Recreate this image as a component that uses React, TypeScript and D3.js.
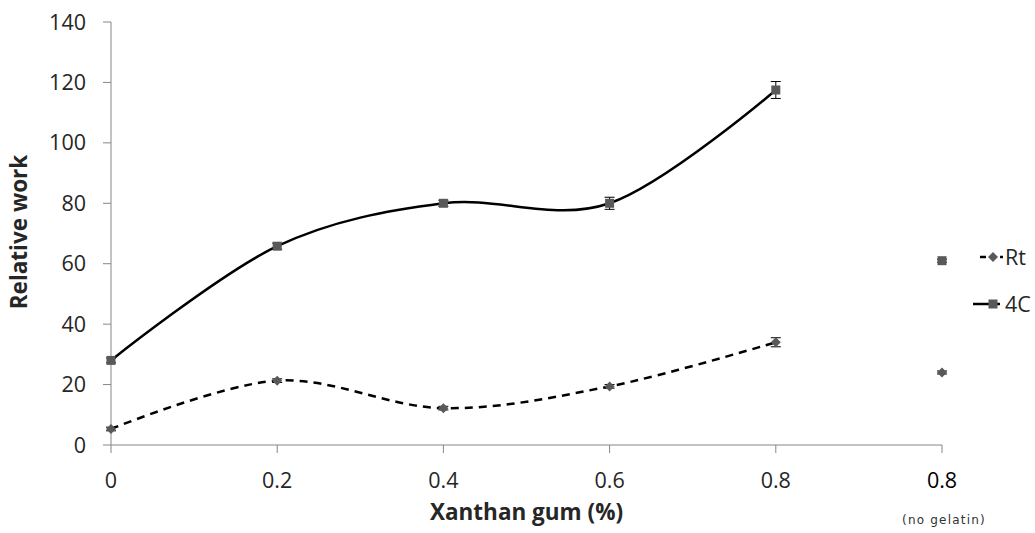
import React, { useEffect, useRef } from 'react';
import * as d3 from 'd3';

// category labels along the x axis
const categories = ['0', '0.2', '0.4', '0.6', '0.8', '0.8'];
const lastNote = '(no gelatin)';

// series values (relative work) and error bars
const rtValues = [5.3, 21.3, 12.2, 19.4, 34, 24];
const rtErrors = [0.6, 0.6, 0.6, 0.6, 1.5, 0.5];
const c4Values = [28, 65.8, 80, 80, 117.5, 61];
const c4Errors = [0.8, 1, 1, 2, 2.8, 0.5];

// curves stop at 0.8, the "no gelatin" point stands alone
const connectedCount = 5;

const yTicks = [0, 20, 40, 60, 80, 100, 120, 140];

const App = () => {
  const svgRef = useRef<SVGSVGElement>(null);

  useEffect(() => {
    const W = 1035;
    const H = 533;
    const left = 111;
    const right = 942;
    const top = 22;
    const bottom = 445;
    const font = '"Open Sans", Lato, sans-serif';
    const axisColor = '#868686';
    const textColor = '#262626';
    const markerColor = '#595959';

    const svg = d3.select(svgRef.current).attr('width', W).attr('height', H);
    svg.selectAll('*').remove();

    const x = d3.scalePoint<number>()
      .domain(categories.map((_, i) => i))
      .range([left, right]);
    const y = d3.scaleLinear().domain([0, 140]).range([bottom, top]);

    // y axis
    svg.append('line')
      .attr('x1', left).attr('x2', left)
      .attr('y1', y(140)).attr('y2', y(0))
      .attr('stroke', axisColor).attr('stroke-width', 1);
    yTicks.forEach(t => {
      svg.append('line')
        .attr('x1', left - 8).attr('x2', left)
        .attr('y1', y(t)).attr('y2', y(t))
        .attr('stroke', axisColor);
      svg.append('text')
        .attr('x', left - 25).attr('y', y(t) + 7.5)
        .attr('text-anchor', 'end')
        .attr('font-family', font).attr('font-size', 21.5)
        .attr('fill', textColor)
        .text(t);
    });

    // x axis
    svg.append('line')
      .attr('x1', left).attr('x2', right)
      .attr('y1', y(0)).attr('y2', y(0))
      .attr('stroke', axisColor);
    categories.forEach((c, i) => {
      svg.append('line')
        .attr('x1', x(i)!).attr('x2', x(i)!)
        .attr('y1', y(0)).attr('y2', y(0) + 8)
        .attr('stroke', axisColor);
      svg.append('text')
        .attr('x', x(i)!).attr('y', 488)
        .attr('text-anchor', 'middle')
        .attr('font-family', font).attr('font-size', 21.5)
        .attr('fill', i === categories.length - 1 ? '#000' : textColor)
        .text(c);
    });
    svg.append('text')
      .attr('x', x(categories.length - 1)! + 2).attr('y', 524)
      .attr('text-anchor', 'middle')
      .attr('font-family', 'Verdana, "DejaVu Sans", sans-serif').attr('font-size', 12)
      .attr('letter-spacing', 1.2)
      .attr('fill', '#333')
      .text(lastNote);

    // axis titles
    svg.append('text')
      .attr('x', (left + right) / 2).attr('y', 520)
      .attr('text-anchor', 'middle')
      .attr('font-family', font).attr('font-size', 22.5).attr('font-weight', 'bold')
      .attr('fill', textColor)
      .text('Xanthan gum (%)');
    svg.append('text')
      .attr('transform', 'translate(27,232) rotate(-90)')
      .attr('text-anchor', 'middle')
      .attr('font-family', font).attr('font-size', 22.5).attr('font-weight', 'bold')
      .attr('fill', textColor)
      .text('Relative work');

    const line = d3.line<number>()
      .x((_, i) => x(i)!)
      .y(d => y(d))
      .curve(d3.curveCardinal.tension(0));

    const series = [
      { name: 'Rt', values: rtValues, errors: rtErrors, dash: '8,6', marker: 'diamond' },
      { name: '4C', values: c4Values, errors: c4Errors, dash: null, marker: 'square' },
    ];

    const drawMarker = (g: any, type: string, cx: number, cy: number) => {
      if (type === 'square') {
        g.append('rect')
          .attr('x', cx - 4.5).attr('y', cy - 4.5)
          .attr('width', 9).attr('height', 9)
          .attr('fill', markerColor);
      } else {
        g.append('path')
          .attr('d', `M${cx},${cy - 5}L${cx + 5},${cy}L${cx},${cy + 5}L${cx - 5},${cy}Z`)
          .attr('fill', markerColor);
      }
    };

    series.forEach(s => {
      const path = svg.append('path')
        .datum(s.values.slice(0, connectedCount))
        .attr('fill', 'none')
        .attr('stroke', '#000')
        .attr('stroke-width', 2.5)
        .attr('d', line);
      if (s.dash) path.attr('stroke-dasharray', s.dash);

      s.values.forEach((v, i) => {
        const cx = x(i)!;
        const e = s.errors[i];
        svg.append('line')
          .attr('x1', cx).attr('x2', cx)
          .attr('y1', y(v - e)).attr('y2', y(v + e))
          .attr('stroke', '#000').attr('stroke-width', 1);
        [v - e, v + e].forEach(ev => {
          svg.append('line')
            .attr('x1', cx - 5).attr('x2', cx + 5)
            .attr('y1', y(ev)).attr('y2', y(ev))
            .attr('stroke', '#000').attr('stroke-width', 1);
        });
        drawMarker(svg, s.marker, cx, y(v));
      });
    });

    // legend
    const legend = [
      { name: 'Rt', y: 257, x1: 980, x2: 1003, dash: '6,4', marker: 'diamond' },
      { name: '4C', y: 304, x1: 973, x2: 1000, dash: null, marker: 'square' },
    ];
    legend.forEach(l => {
      const ln = svg.append('line')
        .attr('x1', l.x1).attr('x2', l.x2)
        .attr('y1', l.y).attr('y2', l.y)
        .attr('stroke', '#000').attr('stroke-width', 2.5);
      if (l.dash) ln.attr('stroke-dasharray', l.dash);
      drawMarker(svg, l.marker, 993, l.y);
      svg.append('text')
        .attr('x', 1005).attr('y', l.y + 7.5)
        .attr('font-family', font).attr('font-size', 21.5)
        .attr('fill', textColor)
        .text(l.name);
    });
  }, []);

  return (
    <svg
      ref={svgRef}
      style={{ position: 'absolute', left: 0, top: 0, background: '#fff' }}
    />
  );
};

export default App;
